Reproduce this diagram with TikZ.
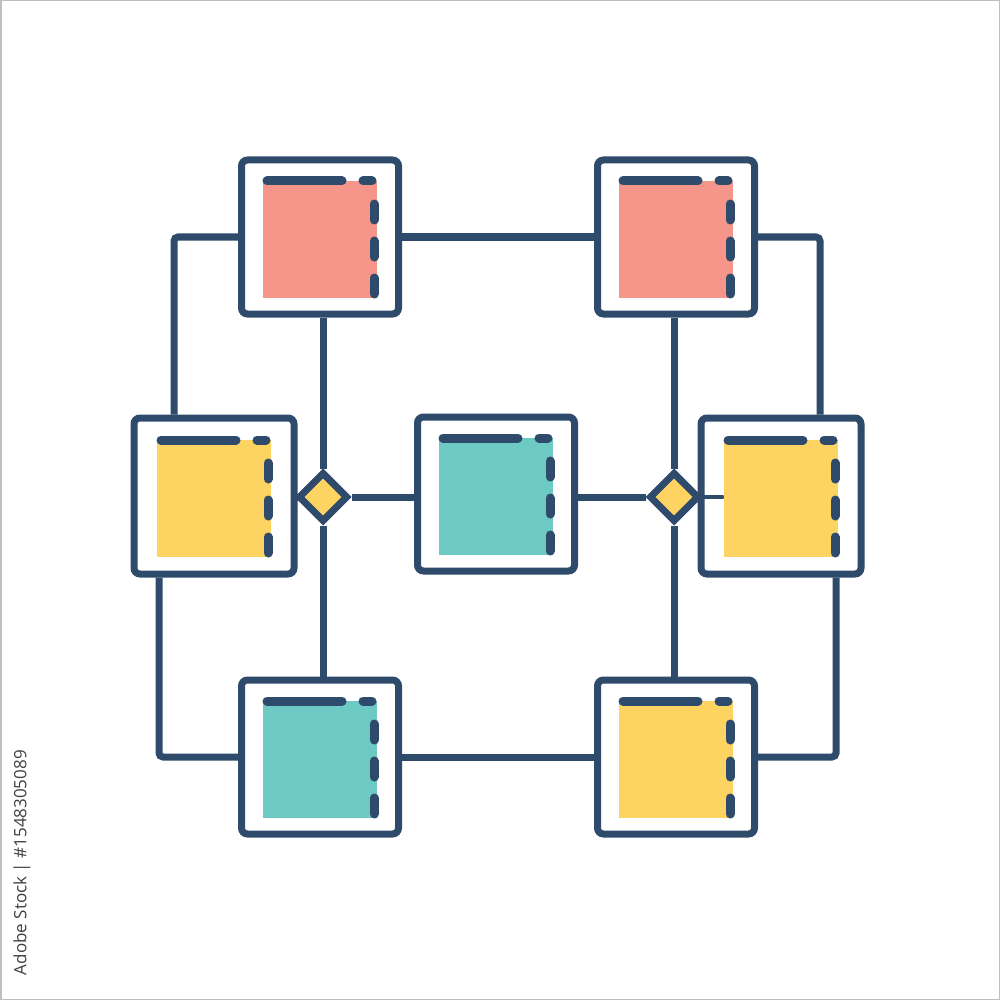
\documentclass[tikz,border=0pt]{standalone}
\usepackage{fontspec}
\newfontfamily\stockfont{Open Sans}
\usetikzlibrary{shapes.geometric,calc}
\definecolor{navy}{HTML}{2F4B6C}
\definecolor{salmonc}{HTML}{F6968B}
\definecolor{yellowc}{HTML}{FDD461}
\definecolor{tealc}{HTML}{6DC9C4}
\tikzset{
  card/.style={draw=navy, line width=7pt, fill=white, rounded corners=6pt,
    minimum width=157pt, minimum height=154pt, inner sep=0pt},
  widecard/.style={card, minimum width=160pt, minimum height=156pt},
  knot/.style={diamond, draw=navy, line width=7pt, fill=yellowc,
    minimum width=50pt, minimum height=50pt, inner sep=0pt},
  conn/.style={draw=navy, line width=7pt, rounded corners=4pt},
  dashmark/.style={draw=navy, line width=9pt, line cap=round},
}
\newcommand\cardfill[2]{%
  \fill[#2] ($(#1)+(-57,-56)$) rectangle ($(#1)+(57,61)$);
  \draw[dashmark] ($(#1)+(-53,-56)$) -- ($(#1)+(22,-56)$);
  \draw[dashmark] ($(#1)+(43,-56)$) -- ($(#1)+(52,-56)$);
  \draw[dashmark] ($(#1)+(54,-33)$) -- ($(#1)+(54,-17)$);
  \draw[dashmark] ($(#1)+(54,4)$) -- ($(#1)+(54,20)$);
  \draw[dashmark] ($(#1)+(54,41)$) -- ($(#1)+(54,57)$);
}
\begin{document}
\begin{tikzpicture}[x=1pt,y=-1pt]
\useasboundingbox (0,0) rectangle (1000,1000);
\fill[white] (0,0) rectangle (1000,1000);
\draw[black!25, line width=1.5pt] (0.75,0.75) rectangle (999.25,999.25);

% cards
\node[card] (tl) at (320,237) {};
\node[card] (tr) at (676,237) {};
\node[widecard] (ml) at (214,496) {};
\node[card] (c)  at (496,494) {};
\node[widecard] (mr) at (781,496) {};
\node[card] (bl) at (320,757) {};
\node[card] (br) at (676,757) {};

% junctions
\node[knot] (dl) at (323,497) {};
\node[knot] (dr) at (674,497) {};

% guide coordinates for loops
\coordinate (xa) at (174,0);
\coordinate (xb) at (820,0);
\coordinate (xl) at (159,0);
\coordinate (xr) at (836,0);

% connectors
\draw[conn] (tl.east) -- (tl.east -| tr.west);
\draw[conn] (tl.west) -| (xa |- ml.north);
\draw[conn] (tr.east) -| (xb |- mr.north);
\draw[conn] (dl.north |- tl.south) -- (dl.north);
\draw[conn] (dl.south) -- (dl.south |- bl.north);
\draw[conn] (dl.west) -- (dl.west -| ml.east);
\draw[conn] (dl.east) -- (dl.east -| c.west);
\draw[conn] (c.east |- dr.west) -- (dr.west);
\draw[conn] (dr.east) -- (dr.east -| mr.west);
\draw[conn] (dr.north |- tr.south) -- (dr.north);
\draw[conn] (dr.south) -- (dr.south |- br.north);
\draw[conn] (xl |- ml.south) |- (bl.west);
\draw[conn] (bl.east) -- (bl.east -| br.west);
\draw[conn] (br.east) -| (xr |- mr.south);
\draw[navy, line width=4pt, line cap=round] (dr.east) -- ++(20,0);

% coloured panels
\cardfill{tl}{salmonc}
\cardfill{tr}{salmonc}
\cardfill{ml}{yellowc}
\cardfill{c}{tealc}
\cardfill{mr}{yellowc}
\cardfill{bl}{tealc}
\cardfill{br}{yellowc}

% stock label
\node[rotate=90, anchor=east, inner sep=0pt, text=black!75,
  font=\stockfont\fontsize{17}{20}\selectfont] (lbl) at (22,750)
  {Adobe Stock | \#1548305089};
\end{tikzpicture}
\end{document}
